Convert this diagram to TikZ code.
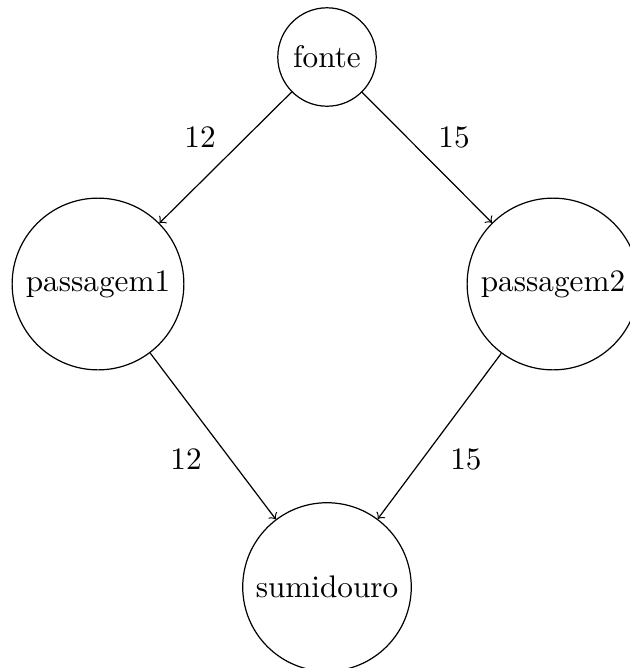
\documentclass[tikz,border=0pt]{standalone}
\begin{document}
\begin{tikzpicture}[x=0.33pt,y=-0.33pt,
  vertex/.style={draw,circle,scale=1.03},
  flow/.style={->},
  flowlabel/.style={inner sep=0pt,scale=1.03}]
\useasboundingbox (0,0) rectangle (630,668);
\node[vertex] (fonte) at (327,57) {fonte};
\node[vertex] (p1) at (98,284) {passagem1};
\node[vertex] (p2) at (553,284) {passagem2};
\node[vertex] (sum) at (327,587) {sumidouro};
\draw[flow] (fonte) -- (p1);
\draw[flow] (fonte) -- (p2);
\draw[flow] (p1) -- (sum);
\draw[flow] (p2) -- (sum);
\node[flowlabel] (l1) at (200,137) {12};
\node[flowlabel] (l2) at (454,137) {15};
\node[flowlabel] (l3) at (186,459) {12};
\node[flowlabel] (l4) at (466,459) {15};
\end{tikzpicture}
\end{document}
